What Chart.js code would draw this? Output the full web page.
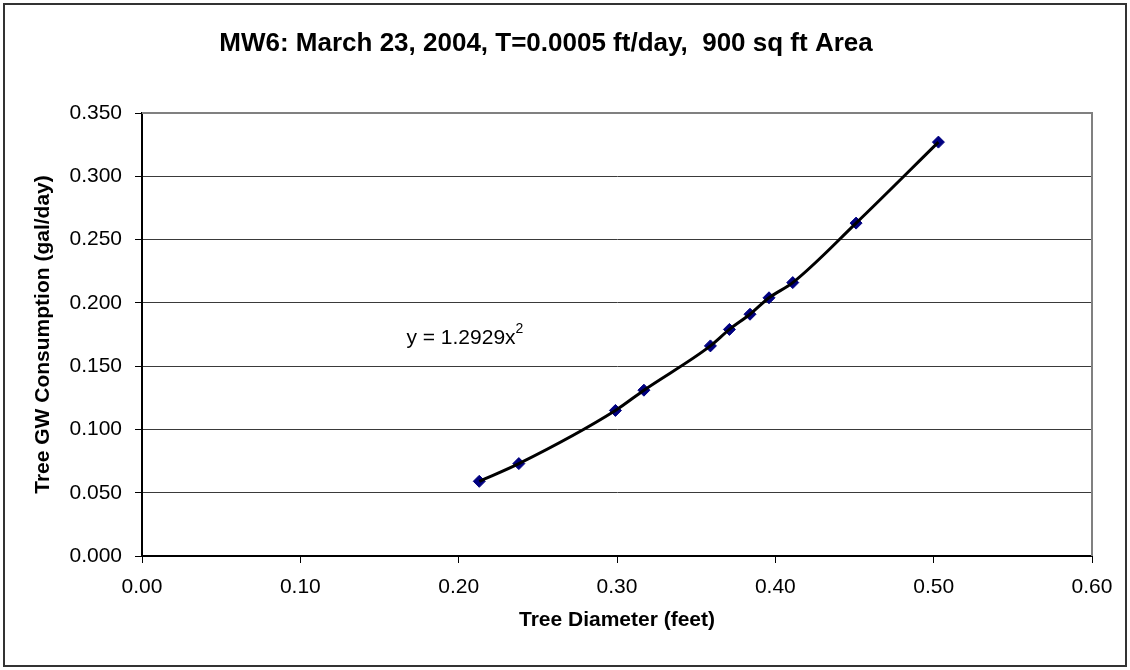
<!DOCTYPE html>
<html lang="en">
<head>
  <meta charset="UTF-8" />
  <title>MW6 Tree GW Consumption</title>
  <script src="https://cdn.jsdelivr.net/npm/chart.js"></script>
  <style>
    body { margin: 0; background: #fff; }
    .wrap { width: 1130px; height: 670px; position: relative; }
  </style>
</head>
<body>
  <div class="wrap">
    <canvas id="gwChart"></canvas>
  </div>

  <script>
    // measured points (diameter ft, consumption gal/day)
    const diameters = [0.213, 0.238, 0.299, 0.317, 0.359, 0.371, 0.384, 0.396, 0.411, 0.451, 0.503];
    const consumption = [0.059, 0.073, 0.115, 0.131, 0.166, 0.179, 0.191, 0.204, 0.216, 0.263, 0.327];

    const xTicks = [0, 0.1, 0.2, 0.3, 0.4, 0.5, 0.6];
    const yTicks = [0, 0.05, 0.1, 0.15, 0.2, 0.25, 0.3, 0.35];

    const titleText = 'MW6: March 23, 2004, T=0.0005 ft/day,  900 sq ft Area';
    const xTitle = 'Tree Diameter (feet)';
    const yTitle = 'Tree GW Consumption (gal/day)';
    const equation = 'y = 1.2929x';
    const equationAt = { x: 0.167, y: 0.172 };

    const points = diameters.map((d, i) => ({ x: d, y: consumption[i] }));
    const FONT = "'Liberation Sans', Arial, sans-serif";

    // outer frame, plot border and the trendline equation
    const extras = {
      id: 'extras',
      beforeDatasetsDraw(chart) {
        const { ctx, chartArea: a } = chart;
        ctx.save();
        ctx.strokeStyle = '#808080';
        ctx.lineWidth = 2;
        ctx.beginPath();
        ctx.moveTo(a.left, a.top);
        ctx.lineTo(a.right, a.top);
        ctx.lineTo(a.right, a.bottom);
        ctx.stroke();
        ctx.restore();
      },
      afterDraw(chart) {
        const { ctx, scales } = chart;
        ctx.save();
        ctx.strokeStyle = '#333';
        ctx.lineWidth = 2;
        ctx.strokeRect(4, 4, chart.width - 8, chart.height - 8);

        const px = scales.x.getPixelForValue(equationAt.x);
        const py = scales.y.getPixelForValue(equationAt.y);
        ctx.fillStyle = '#000';
        ctx.textBaseline = 'middle';
        ctx.textAlign = 'left';
        ctx.font = '21px ' + FONT;
        ctx.fillText(equation, px, py);
        const w = ctx.measureText(equation).width;
        ctx.font = '14px ' + FONT;
        ctx.fillText('2', px + w, py - 9);
        ctx.restore();
      }
    };

    const ctx = document.getElementById('gwChart').getContext('2d');
    const gwChart = new Chart(ctx, {
      type: 'scatter',
      data: {
        datasets: [
          {
            label: 'Trend',
            data: points,
            showLine: true,
            borderColor: '#000',
            borderWidth: 3,
            pointRadius: 0,
            cubicInterpolationMode: 'monotone'
          },
          {
            label: 'MW6',
            data: points,
            showLine: false,
            pointStyle: 'rectRot',
            pointRadius: 6,
            backgroundColor: '#000080',
            borderColor: '#000080',
            borderWidth: 1
          }
        ]
      },
      options: {
        responsive: true,
        maintainAspectRatio: false,
        animation: false,
        events: [],
        layout: { padding: { left: 0, top: 0, right: 38, bottom: 0 } },
        plugins: {
          legend: { display: false },
          tooltip: { enabled: false },
          title: {
            display: true,
            text: titleText,
            color: '#000',
            font: { family: FONT, size: 26, weight: 'bold' },
            padding: { top: 28, bottom: 53.8 }
          }
        },
        scales: {
          x: {
            type: 'linear',
            min: 0,
            max: 0.6,
            afterBuildTicks: s => { s.ticks = xTicks.map(v => ({ value: v })); },
            afterFit: s => { s.height = 114; },
            ticks: {
              color: '#000',
              padding: 12,
              font: { family: FONT, size: 21 },
              callback: v => v.toFixed(2)
            },
            grid: { drawOnChartArea: false, drawTicks: true, tickLength: 7, color: '#000' },
            border: { color: '#000', width: 2 },
            title: {
              display: true,
              text: xTitle,
              color: '#000',
              font: { family: FONT, size: 21, weight: 'bold' },
              padding: { bottom: 37 }
            }
          },
          y: {
            type: 'linear',
            min: 0,
            max: 0.35,
            afterBuildTicks: s => { s.ticks = yTicks.map(v => ({ value: v })); },
            afterFit: s => { s.width = 142; },
            ticks: {
              color: '#000',
              padding: 13,
              font: { family: FONT, size: 21 },
              callback: v => v.toFixed(3)
            },
            grid: { color: '#3a3a3a', lineWidth: 1, tickLength: 7, tickColor: '#000' },
            border: { color: '#000', width: 2 },
            title: {
              display: true,
              text: yTitle,
              color: '#000',
              font: { family: FONT, size: 21, weight: 'bold' },
              padding: { top: 31 }
            }
          }
        }
      },
      plugins: [extras]
    });
  </script>
</body>
</html>
